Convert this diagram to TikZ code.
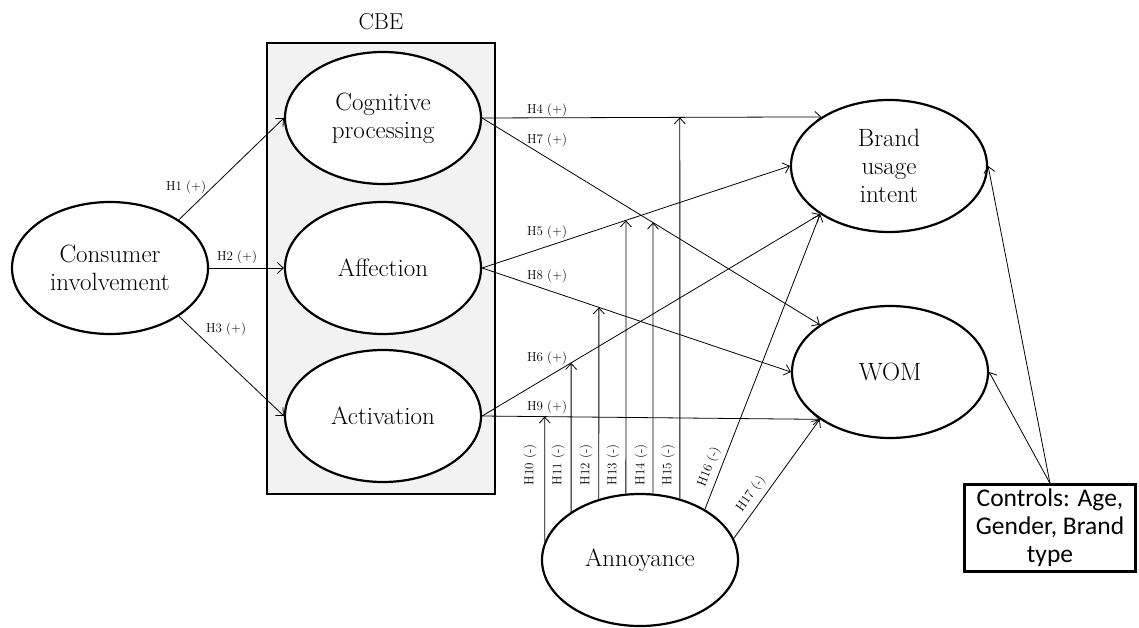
\documentclass[tikz,border=0pt]{standalone}
\usepackage{fontspec}
\newfontfamily\ctrlfont{Carlito}
\usetikzlibrary{shapes.geometric,arrows.meta}
\begin{document}
\begin{tikzpicture}[x=1pt,y=-1pt,
  ell/.style={ellipse, draw, line width=2.2pt, fill=white, minimum width=196pt, minimum height=132pt, inner sep=1pt, align=center, font=\fontsize{25}{28}\selectfont},
  ctrlbox/.style={draw, line width=2.2pt, fill=white, minimum width=171pt, minimum height=87pt, inner sep=0pt, align=center, font=\ctrlfont\fontsize{25.5}{28}\selectfont},
  cbebox/.style={draw, line width=2.4pt, fill=black!5, minimum width=228pt, minimum height=451pt, inner sep=0pt},
  arr/.style={-{Straight Barb[length=6pt,width=11pt]}, line width=0.8pt},
  lab/.style={font=\fontsize{13}{15}\selectfont, inner sep=0pt}]
\useasboundingbox (0,0) rectangle (1139,628);
% CBE frame
\node[cbebox] (cbe) at (381,268.5) {};
\node[font=\fontsize{23}{26}\selectfont, inner sep=0pt] (cbelab) at (381,22) {CBE};
% constructs
\node[ell] (ci) at (110,268) {Consumer\\involvement};
\node[ell] (cog) at (383,118) {Cognitive\\processing};
\node[ell] (aff) at (383,268) {Affection};
\node[ell] (act) at (383,416) {Activation};
\node[ell] (bui) at (889,166) {Brand\\usage\\intent};
\node[ell] (wom) at (890,372) {WOM};
\node[ell] (ann) at (640,560) {Annoyance};
\node[ctrlbox] (ctrl) at (1050,528) {Controls: Age,\\Gender, Brand\\type};
% direct paths
\draw[arr] (ci.35) -- (cog.west);
\draw[arr] (ci.east) -- (aff.west);
\draw[arr] (ci.-35) -- (act.west);
\draw[arr] (cog.east) -- (bui.144);
\draw[arr] (cog.east) -- (wom.146);
\draw[arr] (aff.east) -- (bui.west);
\draw[arr] (aff.east) -- (wom.west);
\draw[arr] (act.east) -- (bui.215);
\draw[arr] (act.east) -- (wom.214);
\draw[arr] (ann.38) -- (bui.215);
\draw[arr] (ann.13) -- (wom.214);
\draw[arr] (ctrl.north) -- (bui.east);
\draw[arr] (ctrl.north) -- (wom.east);
% moderation targets
\coordinate (t10) at (intersection of act.east--wom.214 and ann.169--ann.169|-cog.center);
\coordinate (t11) at (intersection of act.east--bui.215 and ann.145--ann.145|-cog.center);
\coordinate (t12) at (intersection of aff.east--wom.west and ann.124--ann.124|-cog.center);
\coordinate (t13) at (intersection of aff.east--bui.west and ann.102--ann.102|-cog.center);
\coordinate (t14) at (intersection of cog.east--wom.146 and ann.79--ann.79|-cog.center);
\coordinate (t15) at (intersection of cog.east--bui.144 and ann.57--ann.57|-cog.center);
\draw[arr] (ann.169) -- (t10);
\draw[arr] (ann.145) -- (t11);
\draw[arr] (ann.124) -- (t12);
\draw[arr] (ann.102) -- (t13);
\draw[arr] (ann.79) -- (t14);
\draw[arr] (ann.57) -- (t15);
% labels
\node[lab] (l1) at (186,187) {H1 (+)};
\node[lab] (l2) at (237,257) {H2 (+)};
\node[lab] (l3) at (226,329) {H3 (+)};
\node[lab] (l4) at (547,110) {H4 (+)};
\node[lab] (l7) at (547,140) {H7 (+)};
\node[lab] (l5) at (547,232) {H5 (+)};
\node[lab] (l8) at (547,276) {H8 (+)};
\node[lab] (l6) at (547,358) {H6 (+)};
\node[lab] (l9) at (547,407) {H9 (+)};
\node[lab, rotate=90] (l10) at (530,465) {H10 (-)};
\node[lab, rotate=90] (l11) at (558,465) {H11 (-)};
\node[lab, rotate=90] (l12) at (586,465) {H12 (-)};
\node[lab, rotate=90] (l13) at (613,465) {H13 (-)};
\node[lab, rotate=90] (l14) at (641,465) {H14 (-)};
\node[lab, rotate=90] (l15) at (668,465) {H15 (-)};
\node[lab, rotate=69] (l16) at (709,467) {H16 (-)};
\node[lab, rotate=55] (l17) at (751,494) {H17 (-)};
\end{tikzpicture}
\end{document}
